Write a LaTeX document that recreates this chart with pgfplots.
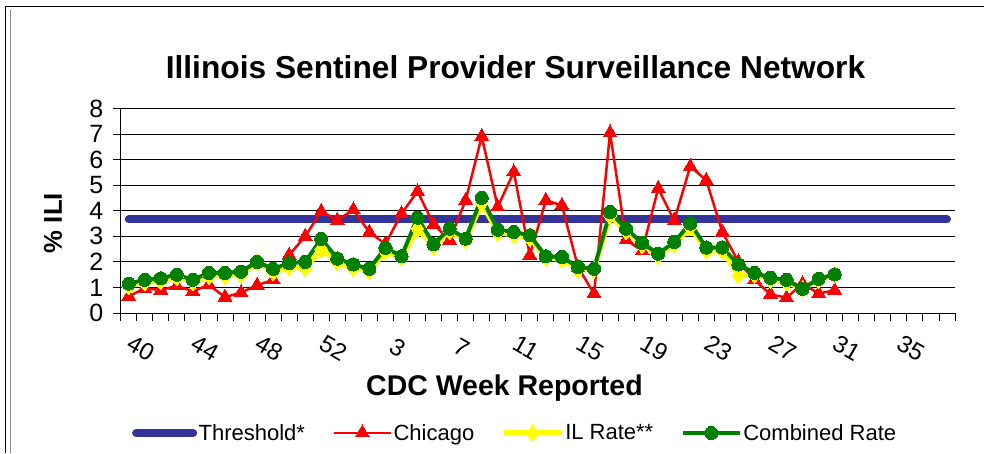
\documentclass[border=0pt]{standalone}
\usepackage{pgfplots}
\usepackage{pgfplotstable}
\pgfplotsset{compat=1.18}
\usepackage{fontspec}
\setmainfont{Liberation Sans}
\definecolor{thr}{RGB}{51,51,153}
\definecolor{comb}{RGB}{0,128,0}
\definecolor{ilr}{RGB}{255,255,0}

\pgfplotstableread{
k chi il comb
0 0.65 1.05 1.15
1 0.97 1.20 1.30
2 0.90 1.25 1.36
3 1.06 1.40 1.50
4 0.85 1.20 1.30
5 1.10 1.45 1.57
6 0.62 1.45 1.57
7 0.80 1.50 1.62
8 1.09 2.00 2.00
9 1.30 1.60 1.73
10 2.27 1.80 1.95
11 3.00 1.75 2.00
12 3.98 2.50 2.90
13 3.63 2.00 2.13
14 4.04 1.75 1.90
15 3.16 1.65 1.73
16 2.70 2.40 2.55
17 3.89 2.15 2.22
18 4.76 3.30 3.73
19 3.47 2.60 2.69
20 2.85 3.20 3.30
21 4.41 2.85 2.91
22 6.91 4.30 4.51
23 4.15 3.15 3.26
24 5.52 3.05 3.17
25 2.26 2.95 3.04
26 4.41 2.15 2.22
27 4.21 2.10 2.19
28 1.80 1.70 1.80
29 0.76 1.70 1.73
30 7.05 3.80 3.95
31 2.87 3.20 3.30
32 2.43 2.65 2.74
33 4.87 2.25 2.32
34 3.62 2.70 2.78
35 5.74 3.35 3.50
36 5.19 2.45 2.56
37 3.17 2.45 2.56
38 2.00 1.47 1.90
39 1.30 1.50 1.57
40 0.73 1.30 1.38
41 0.60 1.20 1.30
42 1.15 0.95 0.95
43 0.76 1.30 1.34
44 0.89 1.50 1.51
}\data

\pgfplotstableread{
k thr
0 3.66
51 3.66
}\thrdata

\begin{document}
\begin{tikzpicture}[x=1pt,y=1pt]
\useasboundingbox (0,0) rectangle (984,453);
\draw[black, line width=1pt] (5,0) -- (5,446) -- (984,446);
\draw[black!45, line width=1pt] (10,0) -- (10,443);
\begin{axis}[
  at={(120.7pt,140pt)}, anchor=south west,
  width=834.3pt, height=204.4pt, scale only axis,
  xmin=-0.5, xmax=51.5, ymin=0, ymax=8,
  axis x line=bottom, axis y line=left,
  axis line style={-, black, line width=1pt},
  ytick={0,1,...,8},
  ymajorgrids, grid style={black, line width=0.9pt},
  tick align=outside, major tick length=8pt, minor tick length=8pt,
  tick style={black, line width=0.9pt},
  xtick={0,4,...,48},
  xticklabels={40,44,48,52,3,7,11,15,19,23,27,31,35},
  minor xtick={-0.5,0.5,...,51.5},
  every major x tick/.append style={draw=none},
  xticklabel style={font=\fontsize{24}{24}\selectfont, xshift=12pt, yshift=-27pt, rotate=-30, anchor=center},
  yticklabel style={font=\fontsize{25}{25}\selectfont, xshift=-6pt},
  /pgf/number format/assume math mode=true,
  title={Illinois Sentinel Provider Surveillance Network},
  every axis title/.style={at={(axis description cs:0.4732,1.1497)}, anchor=base, font=\bfseries\fontsize{31.7}{32}\selectfont},
  xlabel={CDC Week Reported},
  every axis x label/.style={at={(axis description cs:0.46,-0.406)}, anchor=base, font=\bfseries\fontsize{28.5}{29}\selectfont},
  ylabel={\% ILI},
  every axis y label/.style={at={(axis description cs:-0.0811,0.44)}, rotate=90, anchor=center, font=\bfseries\fontsize{25.7}{26}\selectfont},
  legend style={at={(axis description cs:0.4725,-0.587)}, anchor=center, draw=none, fill=none,
    font=\fontsize{22}{22}\selectfont, nodes={inner sep=1.5pt},
    /tikz/every even column/.append style={column sep=26pt}},
  legend columns=4,
  legend image code/.code={\draw[mark repeat=2,mark phase=2] plot coordinates {(0pt,0pt) (28.5pt,0pt) (57pt,0pt)};},
]
\addplot[thr, line width=8pt, line cap=round, no markers] table[x=k,y=thr] {\thrdata};
\addlegendentry{Threshold*}
\addplot[red, line width=2.5pt, mark=triangle*, mark size=8pt, mark options={solid, line width=0pt}] table[x=k,y=chi] {\data};
\addlegendentry{Chicago}
\addplot[ilr, line width=5pt, mark=diamond*, mark size=8.5pt, mark options={solid, line width=0pt}] table[x=k,y=il] {\data};
\addlegendentry{IL Rate**}
\addplot[comb, line width=4pt, mark=*, mark size=6.6pt, mark options={solid, line width=0pt}] table[x=k,y=comb] {\data};
\addlegendentry{Combined Rate}
\end{axis}
\end{tikzpicture}
\end{document}
